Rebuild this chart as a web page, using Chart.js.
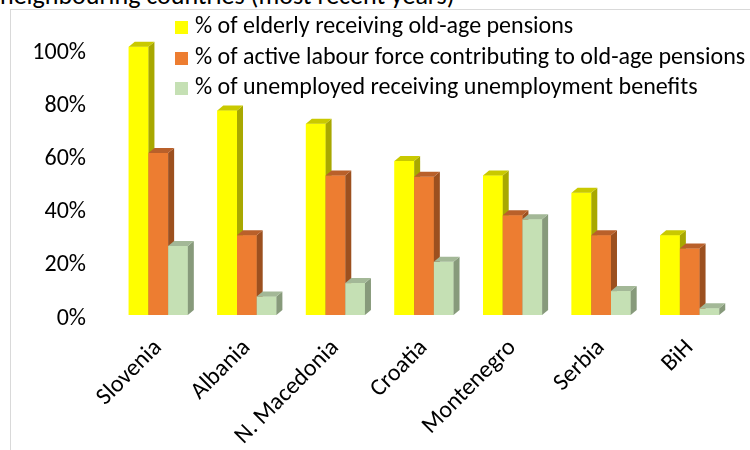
<!DOCTYPE html>
<html>
<head>
<meta charset="utf-8">
<script src="https://cdn.jsdelivr.net/npm/chart.js@4.4.1/dist/chart.umd.min.js"></script>
<style>
  body { margin: 0; background: #fff; overflow: hidden; }
  #wrap { position: relative; width: 750px; height: 450px; overflow: hidden; font-family: Carlito, Lato, sans-serif; }
  #title { position: absolute; left: 0; top: -21px; font-size: 26px; color: #000; white-space: nowrap; }
  #frame { position: absolute; left: 10px; top: 9px; width: 800px; height: 500px; border: 1px solid #d9d9d9; }
  #chart { position: absolute; left: 0; top: 0; }
  #legend { position: absolute; left: 175px; top: 10px; font-size: 24px; color: #000; }
  #legend div { height: 30.5px; line-height: 30.5px; white-space: nowrap; }
  #legend span { display: inline-block; width: 13px; height: 13px; margin-right: 7px; vertical-align: -1px; }
</style>
</head>
<body>
<div id="wrap">
  <div id="title">neighbouring countries (most recent years)</div>
  <div id="frame"></div>
  <canvas id="chart" width="750" height="450"></canvas>
  <div id="legend"></div>
</div>
<script>
const countries = ['Slovenia', 'Albania', 'N. Macedonia', 'Croatia', 'Montenegro', 'Serbia', 'BiH'];
const elderlyPensions = [101, 77, 72, 58, 52.5, 46, 30];
const activeContributing = [61, 30, 52.5, 52, 37.5, 30, 25];
const unemployedBenefits = [26, 7, 12, 20, 36, 9, 2.5];
const seriesNames = [
  '% of elderly receiving old-age pensions',
  '% of active labour force contributing to old-age pensions',
  '% of unemployed receiving unemployment benefits'
];
const frontColors = ['#ffff00', '#ed7d31', '#c5e0b4'];
const sideColors = ['#a8a800', '#9c501f', '#879a7b'];
const topColors = ['#c9c900', '#b9602a', '#a3b897'];
const yTicks = [0, 20, 40, 60, 80, 100];

const DX = 6, DY = 5;

// fake 3D: side and top faces drawn from the bar elements
const depthPlugin = {
  id: 'depth3d',
  afterDatasetsDraw(chart) {
    const ctx = chart.ctx;
    const metas = chart.getSortedVisibleDatasetMetas().slice().sort((a, b) => a.index - b.index);
    ctx.save();
    for (let j = 0; j < countries.length; j++) {
      metas.forEach((meta) => {
        const i = meta.index;
        const p = meta.data[j].getProps(['x', 'y', 'base', 'width'], true);
        const l = p.x - p.width / 2, r = p.x + p.width / 2;
        ctx.fillStyle = frontColors[i];
        ctx.fillRect(l, p.y, p.width, p.base - p.y);
        ctx.fillStyle = sideColors[i];
        ctx.beginPath();
        ctx.moveTo(r, p.y);
        ctx.lineTo(r + DX, p.y - DY);
        ctx.lineTo(r + DX, p.base - DY);
        ctx.lineTo(r, p.base);
        ctx.closePath();
        ctx.fill();
        ctx.fillStyle = topColors[i];
        ctx.beginPath();
        ctx.moveTo(l, p.y);
        ctx.lineTo(l + DX, p.y - DY);
        ctx.lineTo(r + DX, p.y - DY);
        ctx.lineTo(r, p.y);
        ctx.closePath();
        ctx.fill();
      });
    }
    ctx.restore();
  }
};

const allSeries = [elderlyPensions, activeContributing, unemployedBenefits];

document.getElementById('legend').innerHTML = seriesNames.map((name, i) =>
  '<div><span style="background:' + frontColors[i] + '"></span>' + name + '</div>').join('');

new Chart(document.getElementById('chart'), {
  type: 'bar',
  data: {
    labels: countries,
    datasets: allSeries.map((data, i) => ({
      label: seriesNames[i],
      data: data,
      backgroundColor: frontColors[i],
      borderWidth: 0,
      categoryPercentage: 0.667,
      barPercentage: 1.0
    }))
  },
  options: {
    responsive: false,
    animation: false,
    layout: { padding: { top: 44, right: 16, left: 0, bottom: 0 } },
    plugins: {
      legend: { display: false },
      tooltip: { enabled: false }
    },
    scales: {
      x: {
        grid: { display: false },
        border: { display: false },
        ticks: {
          color: '#000',
          font: { family: 'Carlito, Lato, sans-serif', size: 24 },
          minRotation: 45,
          maxRotation: 45,
          padding: 11
        },
        afterFit: (scale) => { scale.height = 135; }
      },
      y: {
        min: 0,
        max: 102,
        grid: { display: false },
        border: { display: false },
        afterBuildTicks: (scale) => { scale.ticks = yTicks.map(v => ({ value: v })); },
        ticks: {
          color: '#000',
          font: { family: 'Carlito, Lato, sans-serif', size: 24 },
          padding: 20,
          labelOffset: 3.5,
          callback: (v) => v + '%'
        },
        afterFit: (scale) => { scale.width = 114; }
      }
    }
  },
  plugins: [depthPlugin]
});
</script>
</body>
</html>
